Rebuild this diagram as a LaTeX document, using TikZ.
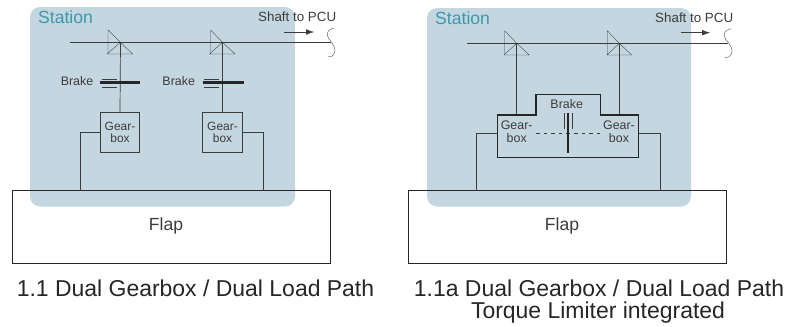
\documentclass[tikz,border=0pt]{standalone}
\usepackage{fontspec}
\setmainfont{Liberation Sans}
\usetikzlibrary{arrows.meta}
\definecolor{stationfill}{HTML}{C4D6E0}
\definecolor{stationtext}{HTML}{3A9AAB}
\definecolor{linegray}{HTML}{3C3C3C}
\tikzset{
	station/.style={fill=stationfill, rounded corners=0.3cm},
	stationlabel/.style={text=stationtext, font=\fontsize{15}{17}\selectfont, inner sep=0},
	smalllabel/.style={text=linegray, font=\fontsize{10.6}{10.8}\selectfont, inner sep=0, align=center},
	pculabel/.style={text=linegray, font=\fontsize{11.4}{13}\selectfont, inner sep=0},
	gearbox/.style={draw=linegray, line width=0.9pt, minimum width=1.18cm, minimum height=1.18cm, inner sep=0, text=linegray, font=\fontsize{10.2}{10.8}\selectfont, align=center},
	flapbox/.style={draw=black!85, line width=0.7pt, minimum width=9.54cm, minimum height=2.18cm, inner sep=0},
	flaplabel/.style={text=linegray, font=\fontsize{15}{17}\selectfont, inner sep=0},
	caption/.style={text=black!85, font=\fontsize{19.6}{22}\selectfont, inner sep=0, align=center},
	shaft/.style={draw=linegray, line width=0.6pt},
	gear/.style={draw=linegray, line width=0.3pt},
	brakebar/.style={draw=black!85, line width=1.9pt},
}
\begin{document}
\begin{tikzpicture}[x=0.03cm, y=-0.03cm]
	\useasboundingbox (0,0) rectangle (789,326);

	% left picture
	\fill[station] (30,7) rectangle (295,206.5);
	\node[stationlabel, anchor=west] (stationA) at (38,17.7) {Station};
	\node[pculabel, anchor=west] (pcuA) at (258,16.7) {Shaft to PCU};
	\node[flapbox] (flapA) at (171,227) {};
	\node[flaplabel] (flapTextA) at (166,226) {Flap};
	\node[gearbox] (gearA) at (120,132.5) {Gear-\\box};
	\node[gearbox] (gearB) at (222.5,132.5) {Gear-\\box};
	\node[smalllabel] (brakeA) at (77,80.7) {Brake};
	\node[smalllabel] (brakeB) at (178.7,81.3) {Brake};

	\coordinate (shaftA) at (70,42.3);
	\coordinate (endA) at (331,42.3);
	\coordinate (tipA) at (120.5,42.3);
	\coordinate (tipB) at (222.5,42.3);
	\coordinate (footA) at (80,190.7);
	\coordinate (footB) at (263.3,190.7);

	\draw[shaft] (shaftA) -- (endA);
	\draw[shaft] (tipA) -- (gearA.north);
	\draw[shaft] (tipB) -- (gearB.north);
	\draw[shaft] (gearA.west) -| (footA);
	\draw[shaft] (gearB.east) -| (footB);

	\draw[gear] (108,30) -- (108,53.5) (108,30) -- (tipA) -- (107,54) -- (132.7,54) -- (tipA);
	\draw[gear] (210.7,30) -- (210.7,53.5) (210.7,30) -- (tipB) -- (209.5,54) -- (235,54) -- (tipB);

	\draw[brakebar, line width=2.5pt] (100,82.7) -- (140,82.7);
	\draw[brakebar, line width=2.5pt] (202.7,82.7) -- (244,82.7);
	\draw[gear] (102,78.7) -- (117,78.7) (102,87.3) -- (117,87.3);
	\draw[gear] (204,78.7) -- (219,78.7) (204,87.3) -- (219,87.3);

	\draw[gear] (334,28) .. controls (328,29) and (325,34) .. (329,39) .. controls (333,44) and (337,49) .. (334,54) .. controls (333,56) and (331,57) .. (328,57);
	\draw[-{Latex[length=2.4mm,width=1.7mm]}, draw=linegray, line width=0.4pt] (284,32) -- (314,32);

	% right picture
	\fill[station] (427,8) rectangle (691,206.5);
	\node[stationlabel, anchor=west] (stationB) at (435,18.7) {Station};
	\node[pculabel, anchor=west] (pcuB) at (655,17.5) {Shaft to PCU};
	\node[flapbox] (flapB) at (567.7,227) {};
	\node[flaplabel] (flapTextB) at (562,226) {Flap};
	\node[smalllabel] (brakeC) at (566.7,103.7) {Brake};
	\node[smalllabel] (gearC) at (516.7,132) {Gear-\\box};
	\node[smalllabel] (gearD) at (619,132) {Gear-\\box};

	\coordinate (shaftB) at (467,43.3);
	\coordinate (endB) at (728,43.3);
	\coordinate (tipC) at (516.7,43.3);
	\coordinate (tipD) at (619.3,43.3);
	\coordinate (topC) at (516.7,115);
	\coordinate (topD) at (619.3,115);
	\coordinate (sideC) at (497.3,133);
	\coordinate (sideD) at (638.3,133);
	\coordinate (footC) at (476.7,190.7);
	\coordinate (footD) at (660.3,190.7);

	\draw[shaft] (shaftB) -- (endB);
	\draw[shaft] (tipC) -- (topC);
	\draw[shaft] (tipD) -- (topD);
	\draw[shaft] (sideC) -| (footC);
	\draw[shaft] (sideD) -| (footD);

	\draw[gear] (504.7,30.7) -- (504.7,55) (504.7,30.7) -- (tipC) -- (504,55) -- (529.3,55) -- (tipC);
	\draw[gear] (607.3,30.7) -- (607.3,55) (607.3,30.7) -- (tipD) -- (607,55) -- (631.7,55) -- (tipD);

	\draw[draw=black!85, line width=0.9pt] (497.3,115) -- (536,115) -- (536,94.3) -- (600.3,94.3) -- (600.3,115) -- (638.3,115) -- (638.3,157.3) -- (497.3,157.3) -- cycle;
	\draw[draw=linegray, dash pattern=on 3pt off 3.5pt, line width=0.3pt] (536,133) -- (600,133);
	\draw[brakebar] (568,112.7) -- (568,153.3);
	\draw[gear] (564.3,113.3) -- (564.3,128.7) (572.3,113.3) -- (572.3,128.7);

	\draw[gear] (731,28.7) .. controls (725,29.7) and (722,34.7) .. (726,39.7) .. controls (730,44.7) and (734,49.7) .. (731,54.7) .. controls (730,56.7) and (728,57.7) .. (725,57.7);
	\draw[-{Latex[length=2.4mm,width=1.7mm]}, draw=linegray, line width=0.4pt] (680.7,32.7) -- (710,32.7);

	% captions
	\node[caption] (captionA) at (195.5,288) {1.1 Dual Gearbox / Dual Load Path};
	\node[caption] (captionB) at (599,288) {1.1a Dual Gearbox / Dual Load Path};
	\node[caption] (captionC) at (598,313) {Torque Limiter integrated};
\end{tikzpicture}
\end{document}
